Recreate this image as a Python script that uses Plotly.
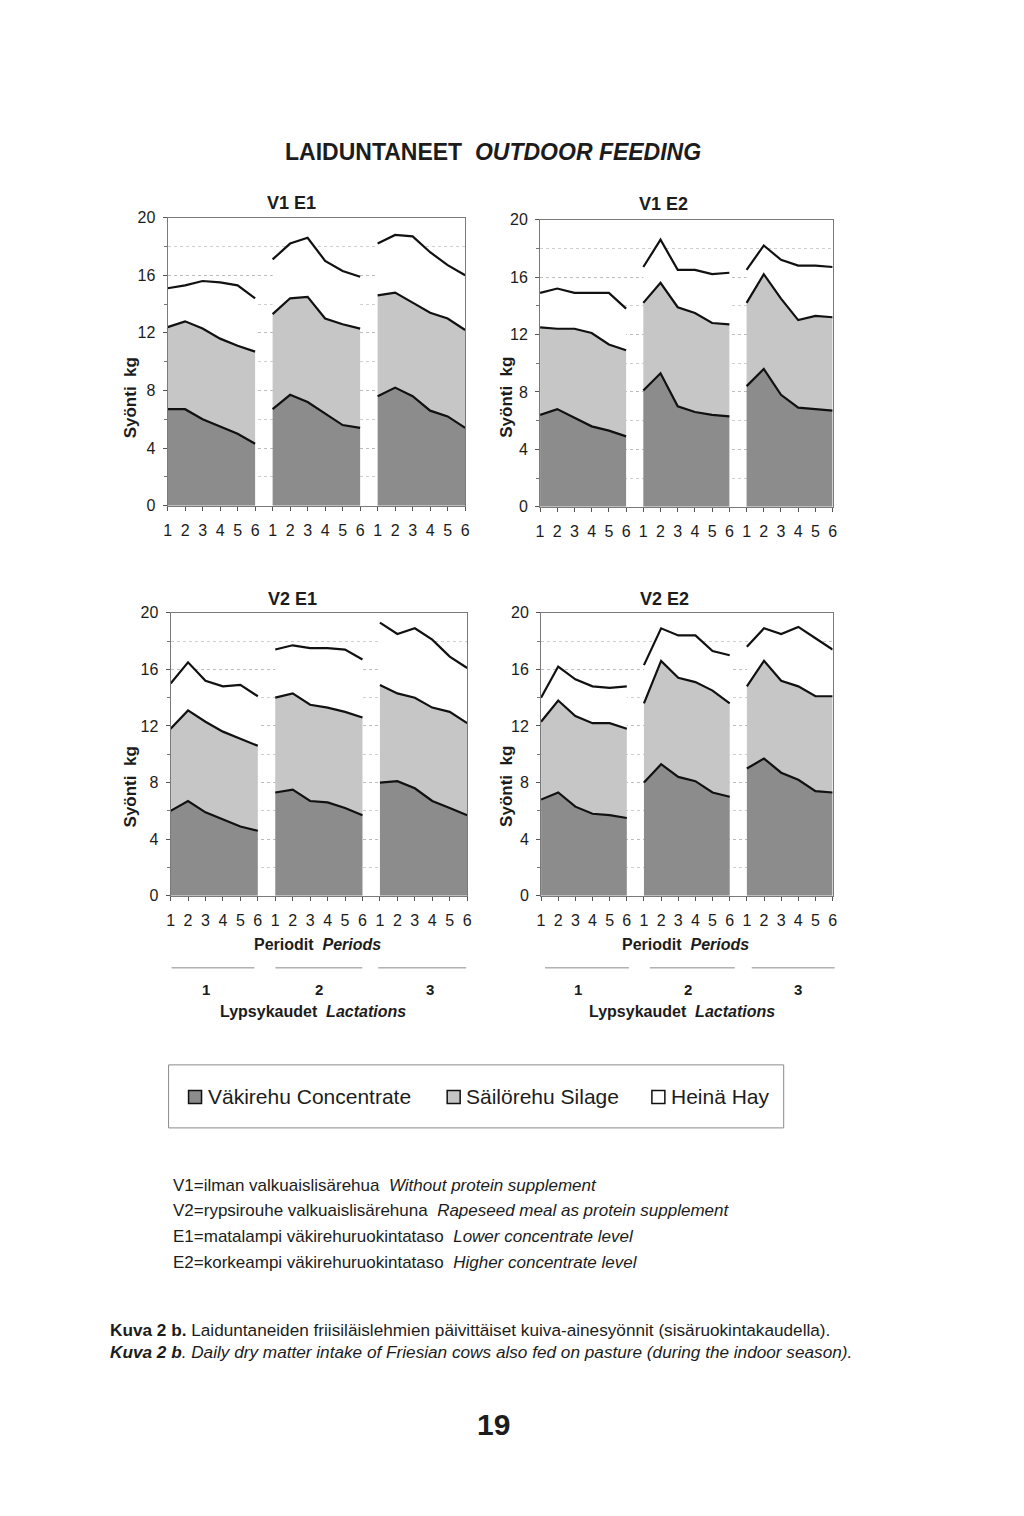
import plotly.graph_objects as go

# ---------------- data (kg/day), 3 lactations x 6 periods each ----------------
period_labels = ["1", "2", "3", "4", "5", "6"]
lactation_labels = ["1", "2", "3"]
panel_titles = ["V1 E1", "V1 E2", "V2 E1", "V2 E2"]
series_names = ["Väkirehu Concentrate", "Säilörehu Silage", "Heinä Hay"]

v1e1_concentrate = [6.7, 6.7, 6.0, 5.5, 5.0, 4.3,  6.7, 7.7, 7.2, 6.4, 5.6, 5.4,  7.6, 8.2, 7.6, 6.6, 6.2, 5.4]
v1e1_silage      = [5.7, 6.1, 6.3, 6.1, 6.1, 6.4,  6.6, 6.7, 7.3, 6.6, 7.0, 6.9,  7.0, 6.6, 6.5, 6.8, 6.8, 6.8]
v1e1_hay         = [2.7, 2.5, 3.3, 3.9, 4.2, 3.7,  3.8, 3.8, 4.1, 4.0, 3.7, 3.6,  3.6, 4.0, 4.6, 4.2, 3.7, 3.8]

v1e2_concentrate = [6.4, 6.8, 6.2, 5.6, 5.3, 4.9,  8.1, 9.3, 7.0, 6.6, 6.4, 6.3,  8.4, 9.6, 7.8, 6.9, 6.8, 6.7]
v1e2_silage      = [6.1, 5.6, 6.2, 6.5, 6.0, 6.0,  6.1, 6.3, 6.9, 6.9, 6.4, 6.4,  5.8, 6.6, 6.7, 6.1, 6.5, 6.5]
v1e2_hay         = [2.4, 2.8, 2.5, 2.8, 3.6, 2.9,  2.5, 3.0, 2.6, 3.0, 3.4, 3.6,  2.3, 2.0, 2.7, 3.8, 3.5, 3.5]

v2e1_concentrate = [6.0, 6.7, 5.9, 5.4, 4.9, 4.6,  7.3, 7.5, 6.7, 6.6, 6.2, 5.7,  8.0, 8.1, 7.6, 6.7, 6.2, 5.7]
v2e1_silage      = [5.8, 6.4, 6.4, 6.2, 6.2, 6.0,  6.7, 6.8, 6.8, 6.7, 6.8, 6.9,  6.9, 6.2, 6.4, 6.6, 6.8, 6.5]
v2e1_hay         = [3.2, 3.4, 2.9, 3.2, 3.8, 3.5,  3.4, 3.4, 4.0, 4.2, 4.4, 4.1,  4.4, 4.2, 4.9, 4.8, 3.9, 3.9]

v2e2_concentrate = [6.8, 7.3, 6.3, 5.8, 5.7, 5.5,  8.0, 9.3, 8.4, 8.1, 7.3, 7.0,  9.0, 9.7, 8.7, 8.2, 7.4, 7.3]
v2e2_silage      = [5.5, 6.5, 6.4, 6.4, 6.5, 6.3,  5.6, 7.3, 7.0, 7.0, 7.2, 6.6,  5.8, 6.9, 6.5, 6.6, 6.7, 6.8]
v2e2_hay         = [1.7, 2.4, 2.6, 2.6, 2.5, 3.0,  2.7, 2.3, 3.0, 3.3, 2.8, 3.4,  2.8, 2.3, 3.3, 4.2, 4.1, 3.3]

panels = [
    (v1e1_concentrate, v1e1_silage, v1e1_hay),
    (v1e2_concentrate, v1e2_silage, v1e2_hay),
    (v2e1_concentrate, v2e1_silage, v2e1_hay),
    (v2e2_concentrate, v2e2_silage, v2e2_hay),
]

# ---------------- styling ----------------
# The page body has an 8px margin, so the figure is 16px smaller than the window
M = 8
W, H = 1024 - 2 * M, 1516 - 2 * M
FONT = "Liberation Sans, Arial, Helvetica, sans-serif"
TXT = "#1c1c1c"
fill_colors = ["#8c8c8c", "#c6c6c6", "#ffffff"]

# small linear calibration of layout positions (window pixel -> placed pixel)
AX, BX = 3.25, 0.9925
AY, BY = 8.5, 0.9884


def px(x):
    xp = (x - AX) / BX
    return (xp - M) / W


def py(y):
    yp = (y - AY) / BY
    return 1 - (yp - M) / H


# plot-area pixel boxes in window coordinates (left, right, top, bottom)
boxes = [
    (167, 465, 218, 506),
    (540, 833, 220, 507),
    (170, 467, 613, 896),
    (541, 833, 613, 896),
]

fig = go.Figure()

n_per = len(period_labels)
for i, (conc, sil, hay) in enumerate(panels):
    xa = "x" if i == 0 else f"x{i+1}"
    ya = "y" if i == 0 else f"y{i+1}"
    for j in range(len(lactation_labels)):
        xs = [j * n_per + k + 1 for k in range(n_per)]
        for s, vals in enumerate((conc, sil, hay)):
            fig.add_trace(go.Scatter(
                x=xs, y=vals[j * n_per:(j + 1) * n_per],
                stackgroup=f"p{i}l{j}",
                mode="lines",
                line=dict(color="#111111", width=2.2),
                fillcolor=fill_colors[s],
                name=series_names[s],
                showlegend=False,
                xaxis=xa, yaxis=ya,
            ))

ticktext = period_labels * len(lactation_labels)
tickvals = list(range(1, len(ticktext) + 1))

layout = dict(
    width=W, height=H,
    margin=dict(l=0, r=0, t=0, b=0),
    paper_bgcolor="white", plot_bgcolor="white",
    font=dict(family=FONT, color=TXT),
    showlegend=False,
)

for i, (l, r, t, b) in enumerate(boxes):
    sx = "xaxis" if i == 0 else f"xaxis{i+1}"
    sy = "yaxis" if i == 0 else f"yaxis{i+1}"
    anc_x = "y" if i == 0 else f"y{i+1}"
    anc_y = "x" if i == 0 else f"x{i+1}"
    layout[sx] = dict(
        domain=[px(l), px(r)], anchor=anc_x,
        range=[1, 18], tickmode="array", tickvals=tickvals, ticktext=ticktext,
        showgrid=False, zeroline=False,
        showline=True, linecolor="#7a7a7a", linewidth=1, mirror=True,
        ticks="outside", ticklen=4, tickcolor="#555", tickwidth=1,
        tickfont=dict(size=16, color=TXT, family=FONT),
        ticklabelstandoff=6,
    )
    layout[sy] = dict(
        domain=[py(b), py(t)], anchor=anc_y,
        range=[0, 20], tickmode="array", tickvals=[0, 4, 8, 12, 16, 20],
        showgrid=True, gridcolor="#bdbdbd", griddash="dot", gridwidth=1,
        zeroline=False,
        showline=True, linecolor="#7a7a7a", linewidth=1, mirror=True,
        ticks="outside", ticklen=4, tickcolor="#555",
        minor=dict(dtick=2, ticks="outside", ticklen=3, tickcolor="#777",
                   showgrid=True, gridcolor="#cfcfcf", griddash="dot"),
        tickfont=dict(size=16, color=TXT, family=FONT),
        ticklabelstandoff=4,
    )

fig.update_layout(**layout)

ann = []


def text(x, y, s, size, xanchor="center", angle=0, family=FONT):
    ann.append(dict(
        x=px(x), y=py(y), xref="paper", yref="paper", text=s,
        showarrow=False, xanchor=xanchor, yanchor="middle", textangle=angle,
        font=dict(size=size, color=TXT, family=family),
    ))


# page title
text(493, 152, "<b>LAIDUNTANEET  <i>OUTDOOR FEEDING</i></b>", 23)

# panel titles
title_pos = [(291, 203), (664, 204), (292, 599), (665, 599)]
for (x, y), s in zip(title_pos, panel_titles):
    text(x, y, f"<b>{s}</b>", 18)

# y axis titles
ylab_pos = [(130, 398), (507, 398), (130, 787), (507, 787)]
for x, y in ylab_pos:
    text(x, y, "<b>Syönti  kg</b>", 17, angle=-90)

# x-axis captions for the bottom row
for cx, lines, nums in [
    (317, [(171, 254), (275, 362), (378, 466)], [205, 319, 430]),
    (686, [(545, 629), (650, 735), (752, 835)], [578, 688, 798]),
]:
    text(cx, 945, "<b>Periodit  <i>Periods</i></b>", 16)
    for (x0, x1) in lines:
        fig.add_shape(type="line", xref="paper", yref="paper",
                      x0=px(x0), x1=px(x1), y0=py(968), y1=py(968),
                      line=dict(color="#8a8a8a", width=1))
    for xn, lab in zip(nums, lactation_labels):
        text(xn, 990, f"<b>{lab}</b>", 15)
    text(cx - 4, 1012, "<b>Lypsykaudet  <i>Lactations</i></b>", 16)

# legend box (drawn manually)
fig.add_shape(type="rect", xref="paper", yref="paper",
              x0=px(168), x1=px(784), y0=py(1128), y1=py(1065),
              line=dict(color="#8a8a8a", width=1), fillcolor="rgba(0,0,0,0)")
legend_items = [(188, series_names[0]), (447, series_names[1]), (652, series_names[2])]
for (x0, name), col in zip(legend_items, fill_colors):
    fig.add_shape(type="rect", xref="paper", yref="paper",
                  x0=px(x0), x1=px(x0 + 13), y0=py(1103.5), y1=py(1090.5),
                  line=dict(color="#111", width=1.5), fillcolor=col)
    text(x0 + 17, 1097, name, 21, xanchor="left")

# footnotes
notes = [
    (1186, "V1=ilman valkuaislisärehua  <i>Without protein supplement</i>"),
    (1211, "V2=rypsirouhe valkuaislisärehuna  <i>Rapeseed meal as protein supplement</i>"),
    (1237, "E1=matalampi väkirehuruokintataso  <i>Lower concentrate level</i>"),
    (1263, "E2=korkeampi väkirehuruokintataso  <i>Higher concentrate level</i>"),
]
for y, s in notes:
    text(170, y, s, 17, xanchor="left")

text(107, 1330, "<b>Kuva 2 b.</b> Laiduntaneiden friisiläislehmien päivittäiset kuiva-ainesyönnit (sisäruokintakaudella).", 17.2, xanchor="left")
text(107, 1352, "<i><b>Kuva 2 b</b>. Daily dry matter intake of Friesian cows also fed on pasture (during the indoor season).</i>", 17.2, xanchor="left")

# page number
text(493, 1425, "<b>19</b>", 30, family="Liberation Sans Narrow, Liberation Sans, Arial, sans-serif")

fig.update_layout(annotations=ann)
fig.write_html("out.html")
